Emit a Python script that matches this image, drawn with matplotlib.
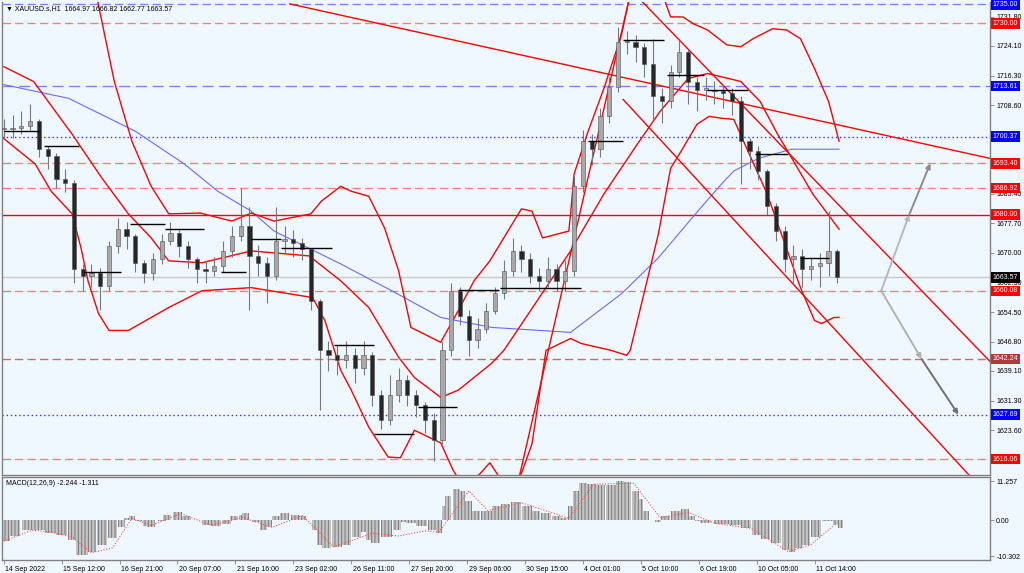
import numpy as np
import matplotlib
matplotlib.use("Agg")
from matplotlib import pyplot as plt
from matplotlib import transforms

plt.rcParams["font.family"] = ["Liberation Sans", "DejaVu Sans"]
plt.rcParams["hatch.linewidth"] = 0.6

# ---- price data: 5-hour candles (bar index in hours) ----
candle_t = list(range(0, 480, 5))
closes = [1702.3, 1702.6, 1703.3, 1704.4, 1697.1, 1695.3, 1689.3, 1688.2, 1665.8, 1664.0,
          1664.8, 1661.4, 1671.8, 1676.3, 1674.4, 1667.4, 1664.8, 1668.4, 1673.1, 1675.2,
          1671.8, 1668.4, 1665.8, 1665.3, 1666.6, 1670.5, 1674.4, 1677.0, 1669.2, 1667.4,
          1664.0, 1673.1, 1673.6, 1672.6, 1671.0, 1657.5, 1644.5, 1643.2, 1641.9, 1643.2,
          1639.8, 1643.2, 1632.8, 1626.3, 1632.8, 1636.7, 1632.8, 1630.2, 1626.3, 1621.0,
          1644.5, 1660.1, 1653.6, 1647.1, 1650.2, 1654.9, 1659.6, 1665.3, 1670.5, 1668.4,
          1664.0, 1662.7, 1665.8, 1662.7, 1665.3, 1687.4, 1699.2, 1697.1, 1705.7, 1713.5,
          1725.2, 1725.2, 1723.9, 1719.5, 1710.9, 1709.6, 1717.4, 1722.6, 1714.8, 1712.7,
          1712.7, 1712.2, 1711.7, 1709.6, 1699.2, 1696.6, 1691.4, 1682.2, 1675.7, 1668.4,
          1669.2, 1665.8, 1666.6, 1667.4, 1670.5, 1663.6]
highs = [1705, 1706, 1707, 1709, 1705, 1698, 1696, 1692, 1689, 1667,
         1667, 1666, 1673, 1679, 1678, 1675, 1668, 1670, 1675, 1678,
         1676, 1673, 1669, 1668, 1669, 1673, 1677, 1687, 1682, 1672,
         1669, 1682, 1677, 1676, 1674, 1671, 1658, 1647, 1646, 1647,
         1645, 1647, 1644, 1634, 1638, 1640, 1638, 1634, 1631, 1628,
         1647, 1662, 1661, 1655, 1653, 1657, 1661, 1668, 1674, 1672,
         1670, 1666, 1669, 1667, 1668, 1690, 1702, 1701, 1708, 1716,
         1729, 1728, 1727, 1725, 1726, 1713, 1719, 1726, 1723, 1716,
         1716, 1715, 1714, 1713, 1711, 1700, 1698, 1692, 1683, 1677,
         1672, 1671, 1669, 1670, 1681, 1671]
lows = [1700, 1700, 1701, 1702, 1695, 1692, 1687, 1686, 1662, 1660,
        1661, 1655, 1660, 1670, 1671, 1665, 1662, 1663, 1667, 1672,
        1669, 1666, 1662, 1662, 1664, 1665, 1669, 1673, 1655, 1664,
        1657, 1663, 1670, 1669, 1668, 1655, 1629, 1639, 1638, 1640,
        1636, 1638, 1630, 1624, 1625, 1631, 1630, 1627, 1623, 1615.5,
        1620, 1643, 1651, 1643, 1645, 1649, 1654, 1658, 1664, 1665,
        1662, 1660, 1661, 1660, 1660, 1664, 1686, 1693, 1695, 1704,
        1712, 1722, 1720, 1716, 1705, 1704, 1708, 1716, 1709, 1707,
        1710, 1709, 1708, 1706, 1688, 1692, 1689, 1680, 1673, 1665,
        1662, 1661, 1663, 1661, 1664, 1662]

# ---- indicators ----
ma_t = [0, 37, 75, 103, 122, 141, 154, 192, 221, 249, 278, 323, 352, 373, 397, 409, 416, 430, 449, 476]
ma_v = [1714.0, 1710.4, 1701.8, 1693.2, 1686.1, 1680.9, 1675.7, 1667.1, 1660.1, 1653.1,
        1650.5, 1649.2, 1659.3, 1668.7, 1681.7, 1688.0, 1691.4, 1694.7, 1697.1, 1697.1]

bb_up_t = [40, 53, 63, 73, 84, 94, 112, 130, 141, 154, 175, 181, 192, 198, 208, 217, 225, 232,
           249, 259, 268, 277, 295, 301, 307, 322, 323, 325, 333, 342, 352, 356, 366, 377, 380,
           387, 393, 401, 412, 420, 427, 438, 446, 454, 462, 470, 476]
bb_up_v = [1760, 1737, 1714.8, 1699.2, 1687.4, 1680.2, 1680.4, 1678.3, 1680.4, 1678.3, 1680.2,
           1683.5, 1687.4, 1686.1, 1684.8, 1676.5, 1665.3, 1650.5, 1646.6, 1654.9, 1662.7,
           1667.9, 1681.5, 1680.9, 1673.9, 1675.7, 1680.2, 1690.6, 1701.8, 1713.0, 1727.0,
           1735.6, 1742, 1735.6, 1731.7, 1731.7, 1729.9, 1728.3, 1724.4, 1723.9, 1726.0,
           1728.6, 1728.3, 1726.0, 1718.2, 1709.6, 1699.2]
bb_mid_t = [0, 17, 39, 56, 71, 84, 94, 113, 141, 174, 192, 208, 225, 234, 249, 259, 278, 285,
            304, 323, 342, 361, 374, 390, 401, 413, 420, 431, 441, 450, 461, 476]
bb_mid_v = [1718.7, 1714.8, 1701.0, 1689.5, 1680.2, 1673.9, 1667.9, 1667.4, 1670.5, 1669.2,
            1662.7, 1655.7, 1642.7, 1637.4, 1632.2, 1634.1, 1641.1, 1644.5, 1657.5, 1670.5,
            1685.4, 1698.4, 1707.0, 1715.6, 1716.9, 1715.6, 1714.8, 1709.6, 1701.0, 1694.0,
            1685.4, 1676.2]
bb_lo_t = [0, 18, 27, 39, 44, 48, 54, 60, 71, 94, 113, 141, 176, 183, 192, 198, 208, 219, 226,
           234, 249, 256, 263, 277, 290, 301, 309, 323, 329, 346, 355, 357, 373, 380, 386, 395,
           402, 409, 416, 435, 454, 462, 466, 473, 476]
bb_lo_v = [1699.9, 1693.2, 1686.1, 1680.2, 1671.3, 1662.7, 1654.1, 1649.7, 1649.7, 1655.7,
           1660.1, 1660.9, 1658.3, 1652.3, 1639.3, 1634.1, 1624.4, 1616.6, 1616.4, 1623.6,
           1620.3, 1613.2, 1608.0, 1615.1, 1606.0, 1620.0, 1644.5, 1647.6, 1646.3, 1644.5,
           1643.2, 1644.5, 1674.9, 1692.1, 1696.6, 1703.6, 1705.7, 1705.2, 1704.9, 1685.4,
           1660.9, 1652.3, 1651.5, 1653.1, 1653.1]

# ---- levels on the price axis ----
levels = [1735.00, 1730.00, 1713.61, 1700.37, 1693.40, 1686.92, 1680.00, 1663.57, 1660.08, 1642.24, 1627.69, 1616.06]
level_colors = ["#8080ff", "#ff8080", "#8080ff", "#3030ff", "#ff8080", "#ff8080", "#ff0000", "#c8c8c8",
                "#ff8080", "#c07070", "#3030ff", "#ff8080"]
level_styles = [(0, (6, 3)), (0, (6, 3)), (0, (8, 4)), (0, (1, 2)), (0, (6, 3)), (0, (6, 3)), "-", "-",
                (0, (6, 3)), (0, (6, 3)), (0, (1, 2)), (0, (6, 3))]
label_bg = ["#0000ff", "#ff0000", "#0000ff", "#0000ff", "#ff0000", "#ff0000", "#ff0000", "#000000",
            "#ff0000", "#b03a3a", "#0000ff", "#ff0000"]
price_ticks = [1731.80, 1724.10, 1716.30, 1708.60, 1685.40, 1677.70, 1670.00,
               1662.30, 1654.50, 1646.80, 1639.10, 1631.30, 1623.60]

# short black marks (start bar, end bar, price)
seg_start = [0, 23, 46, 72, 92, 124, 141, 158, 188, 211, 236, 259, 283, 333, 353, 378, 401, 428, 454]
seg_end = [20, 43, 67, 92, 114, 138, 158, 187, 211, 234, 258, 282, 329, 353, 376, 399, 424, 447, 470]
seg_price = [1701.8, 1697.9, 1665.1, 1677.6, 1676.2, 1665.1, 1673.6, 1671.3, 1645.8, 1622.6,
             1629.6, 1660.4, 1660.9, 1699.2, 1725.7, 1716.6, 1712.7, 1695.8, 1668.7]

# trend lines (bar0, price0, bar1, price1)
trend_lines = [(163, 1735.1, 562, 1694.7),
               (364, 1735.6, 562, 1641.6),
               (353, 1710.1, 550, 1611.9),
               (356, 1735.6, 294, 1611.9)]

# projected paths
up_t = [500, 516, 528]
up_p = [1660.08, 1680.00, 1693.40]
dn_t = [500, 523, 544]
dn_p = [1660.08, 1642.24, 1627.69]

# ---- MACD ----
hist_t = [1, 6, 14, 20, 27, 33, 39, 43, 46, 50, 56, 62, 67, 70, 73, 77, 81, 84, 90, 93, 99, 104,
          110, 116, 121, 127, 131, 136, 138, 144, 148, 151, 155, 160, 166, 170, 174, 177, 180,
          184, 190, 195, 201, 205, 208, 212, 218, 224, 227, 232, 238, 244, 248, 251, 253, 258,
          261, 265, 269, 275, 281, 286, 292, 298, 303, 309, 315, 319, 323, 326, 330, 335, 340,
          346, 351, 355, 360, 363, 366, 370, 373, 377, 383, 388, 392, 396, 400, 409, 417, 423,
          429, 434, 440, 446, 449, 453, 457, 463, 468, 471, 474, 477]
hist_v = [-5.9, -4.5, -2.8, -2.8, -3.7, -4.2, -5.6, -9.9, -9.9, -9.0, -7.0, -5.1, -2.0, 0.8, 1.4,
          -0.2, -1.7, -2.0, -0.2, 1.7, 2.3, 1.4, 0.2, -1.4, -1.7, -1.1, 1.4, 1.7, 2.0, -0.6, -2.8,
          -2.0, 1.4, 2.0, 1.7, 1.4, 0.2, -2.8, -7.0, -7.9, -7.6, -7.0, -4.8, -3.4, -5.6, -6.5,
          -4.8, -2.8, -0.5, -0.8, -1.7, -2.8, -3.7, 4.2, 7.0, 9.0, 8.5, 5.6, 2.8, 2.8, 4.2, 4.8,
          5.4, 4.2, 2.8, 2.0, 1.4, 0.6, 4.2, 8.5, 10.7, 10.4, 10.1, 10.1, 11.3, 11.0, 8.5, 6.2,
          2.8, 0.2, -0.6, 1.4, 2.8, 3.4, 1.4, -0.3, -0.8, -1.1, -1.4, -2.3, -4.2, -5.4, -6.5,
          -8.5, -9.0, -7.9, -7.0, -4.8, -0.3, -0.3, -1.4, -2.2]
sig_t = [0, 16, 27, 39, 50, 62, 73, 84, 101, 118, 136, 153, 170, 188, 210, 225, 240, 248, 265,
         276, 295, 322, 336, 359, 374, 390, 405, 426, 447, 460, 473]
sig_v = [-6.0, -2.8, -3.4, -4.8, -9.3, -7.9, 0.6, -1.4, 2.0, -1.4, 0.8, -2.0, 1.4, -7.6, -3.7,
         -4.5, -3.0, -3.4, 8.5, 2.8, 5.1, 0.6, 10.4, 10.7, 0.8, 2.3, -0.8, -2.3, -9.0, -7.0, -1.4]

date_labels = ["14 Sep 2022", "15 Sep 12:00", "16 Sep 21:00", "20 Sep 07:00", "21 Sep 16:00",
               "23 Sep 02:00", "26 Sep 11:00", "27 Sep 20:00", "29 Sep 06:00", "30 Sep 15:00",
               "4 Oct 01:00", "5 Oct 10:00", "6 Oct 19:00", "10 Oct 05:00", "11 Oct 14:00"]

BG = "#f0f8ff"
FRAME = "#808080"
W, H = 1024, 573
FS = 5.0

fig = plt.figure(figsize=(10.24, 5.73), dpi=100, facecolor=BG)
ax = fig.add_axes([2 / W, 1 - 475 / H, 988 / W, 473 / H], facecolor=BG)
mx = fig.add_axes([2 / W, 1 - 560 / H, 988 / W, 83 / H], facecolor=BG, sharex=ax)

ax.set_xlim(-1, 562)
ax.set_ylim(1611.9, 1735.6)

# levels
for lv, c, ls in zip(levels, level_colors, level_styles):
    ax.axhline(lv, color=c, linestyle=ls, lw=1.0, zorder=1)

# bands and ma
ax.plot(ma_t, ma_v, color="#6a6aff", lw=0.8, zorder=2)
ax.plot(bb_up_t, bb_up_v, color="#ff0000", lw=1.0, zorder=2)
ax.plot(bb_mid_t, bb_mid_v, color="#ff0000", lw=1.0, zorder=2)
ax.plot(bb_lo_t, bb_lo_v, color="#ff0000", lw=1.0, zorder=2)

# trend lines
for b0, p0, b1, p1 in trend_lines:
    ax.plot([b0, b1], [p0, p1], color="#ff0000", lw=1.0, zorder=2)

# candles
opens = [closes[0]] + closes[:-1]
for t, o, h, l, c in zip(candle_t, opens, highs, lows, closes):
    bull = c >= o
    ax.vlines(t, l, h, color="#787878", lw=0.8, zorder=3)
    ax.bar(t, max(abs(c - o), 0.3), bottom=min(o, c), width=2.4,
           color="#a8a8a8" if bull else "#262626", edgecolor="#505050", lw=0.4, zorder=4)

# short black marks
ax.hlines(seg_price, seg_start, seg_end, color="#000000", lw=1.0, zorder=5)

# projected arrows
for ts, ps, cols in [(up_t, up_p, ["#b8b8b8", "#8c8c8c"]), (dn_t, dn_p, ["#b0b0b0", "#707070"])]:
    for k in range(2):
        ax.annotate("", xy=(ts[k + 1], ps[k + 1]), xytext=(ts[k], ps[k]),
                    arrowprops=dict(arrowstyle="-|>", color=cols[k], lw=1.4, mutation_scale=7,
                                    shrinkA=0, shrinkB=0), zorder=5)

# price axis
ax.yaxis.tick_right()
ax.set_yticks(price_ticks)
ax.set_yticklabels(["%.2f" % v for v in price_ticks])
ax.tick_params(axis="y", labelsize=FS, length=3, width=0.6, color=FRAME, pad=1.5, labelcolor="#000000")
ax.tick_params(axis="x", bottom=False, labelbottom=False)
tr = transforms.blended_transform_factory(ax.transAxes, ax.transData)
for lv, bg in zip(levels, label_bg):
    ax.text(1.003, lv, "%.2f" % lv, transform=tr, fontsize=FS, color="white", va="center", ha="left",
            bbox=dict(boxstyle="square,pad=0.25", fc=bg, ec="none"), zorder=10, clip_on=False)

for s in ax.spines.values():
    s.set_color(FRAME)
    s.set_linewidth(1.0)
ax.spines["top"].set_visible(False)

ax.text(0.004, 0.994, "\u25bc XAUUSD.s,H1  1664.97 1666.82 1662.77 1663.57", transform=ax.transAxes,
        fontsize=FS, va="top", ha="left", color="#000000")

# MACD panel
mx.set_ylim(-11.4, 12.5)
widths = np.gradient(np.array(hist_t, dtype=float))
mx.bar(hist_t, hist_v, width=widths, color="#c4c4c4", edgecolor="#6e6e6e", hatch="|||||", lw=0, zorder=2)
mx.plot(sig_t, sig_v, color="#ff5050", lw=0.8, linestyle=(0, (1, 1.5)), zorder=3)
mx.yaxis.tick_right()
mx.set_yticks([11.257, 0.0, -10.302])
mx.set_yticklabels(["11.257", "0.00", "-10.302"])
mx.tick_params(axis="y", labelsize=FS, length=3, width=0.6, color=FRAME, pad=1.5)
mx.set_xticks([33 * k for k in range(len(date_labels))])
mx.set_xticklabels(date_labels, ha="left")
mx.tick_params(axis="x", labelsize=FS, length=3, width=0.6, color=FRAME, pad=1.0)
for lab in mx.get_xticklabels():
    lab.set_transform(lab.get_transform() + transforms.ScaledTranslation(1.5 / 100, 0, fig.dpi_scale_trans))
for s in mx.spines.values():
    s.set_color(FRAME)
    s.set_linewidth(1.0)
mx.text(0.004, 0.96, "MACD(12,26,9) -2.244 -1.311", transform=mx.transAxes, fontsize=FS,
        va="top", ha="left", color="#000000")

fig.savefig("out.png", dpi=100, facecolor=BG)
